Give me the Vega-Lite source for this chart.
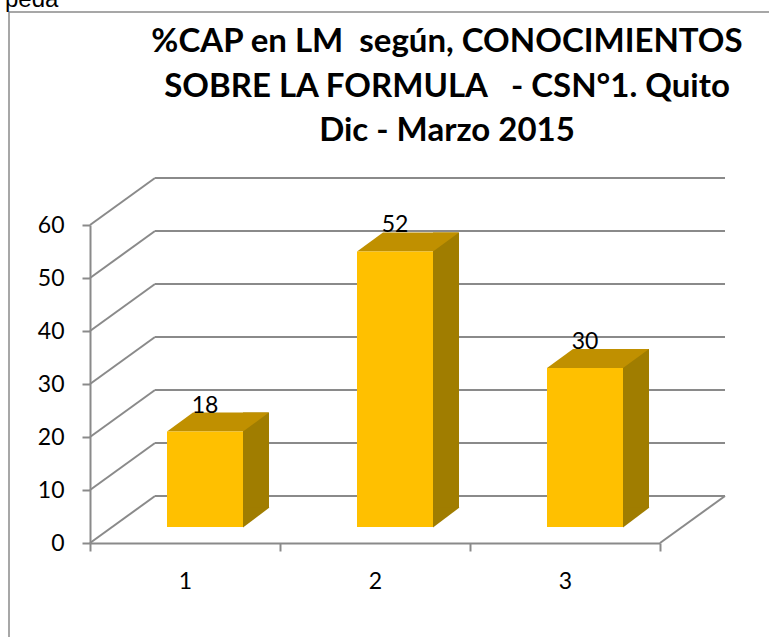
{
  "$schema": "https://vega.github.io/schema/vega-lite/v6.json",
  "width": 570,
  "height": 318,
  "autosize": {"type": "none"},
  "padding": {"left": 90, "top": 225, "right": 109, "bottom": 94},
  "background": "white",
  "config": {"view": {"stroke": null}, "font": "Lato"},
  "datasets": {
    "bars": [{"n": 1, "v": 18}, {"n": 2, "v": 52}, {"n": 3, "v": 30}],
    "ticks": [{"t": 0}, {"t": 10}, {"t": 20}, {"t": 30}, {"t": 40}, {"t": 50}, {"t": 60}]
  },
  "layer": [
    {
      "data": {"name": "ticks"},
      "mark": {"type": "rule", "color": "#8a8a8a", "strokeWidth": 2, "xOffset": 65, "x2Offset": 65, "yOffset": -47, "y2Offset": -47},
      "encoding": {
        "x": {"datum": 0.5, "type": "quantitative"},
        "x2": {"datum": 3.5},
        "y": {
          "field": "t", "type": "quantitative",
          "scale": {"domain": [0, 60], "nice": false, "zero": true},
          "axis": {
            "values": [0, 10, 20, 30, 40, 50, 60],
            "title": null, "grid": false,
            "domainColor": "#8a8a8a", "domainWidth": 2,
            "tickColor": "#8a8a8a", "tickWidth": 2, "tickSize": 8,
            "labelFontSize": 23, "labelColor": "black", "labelPadding": 18, "labelFont": "Lato"
          }
        }
      }
    },
    {
      "data": {"name": "ticks"},
      "mark": {"type": "rule", "color": "#8a8a8a", "strokeWidth": 2, "x2Offset": 65, "y2Offset": -47},
      "encoding": {
        "x": {
          "datum": 0.5, "type": "quantitative",
          "scale": {"domain": [0.5, 3.5], "nice": false, "zero": false, "padding": 0},
          "axis": {
            "values": [0.5, 1, 1.5, 2, 2.5, 3, 3.5],
            "format": ".0f",
            "labelOpacity": {"condition": {"test": "datum.value % 1 !== 0", "value": 0}, "value": 1},
            "tickOpacity": {"condition": {"test": "datum.value % 1 === 0", "value": 0}, "value": 1},
            "labelFlush": false, "labelOverlap": false, "labelBound": false,
            "title": null, "grid": false,
            "domainColor": "#8a8a8a", "domainWidth": 2,
            "tickColor": "#8a8a8a", "tickWidth": 2, "tickSize": 8,
            "labelFontSize": 23, "labelColor": "black", "labelPadding": 19, "labelFont": "Lato"
          }
        },
        "x2": {"datum": 0.5},
        "y": {"field": "t", "type": "quantitative"},
        "y2": {"field": "t"}
      }
    },
    {
      "data": {"values": [{}]},
      "mark": {"type": "rule", "color": "#8a8a8a", "strokeWidth": 2, "x2Offset": 65, "y2Offset": -47},
      "encoding": {
        "x": {"datum": 3.5, "type": "quantitative"},
        "x2": {"datum": 3.5},
        "y": {"datum": 0, "type": "quantitative"},
        "y2": {"datum": 0}
      }
    },
    {
      "data": {"name": "bars"},
      "mark": {"type": "bar", "width": 26, "color": "#A07D00", "xOffset": 71, "yOffset": -35, "y2Offset": -35},
      "encoding": {
        "x": {"field": "n", "type": "quantitative"},
        "y": {"field": "v", "type": "quantitative"}
      }
    },
    {
      "data": {"name": "bars"},
      "mark": {"type": "point", "shape": "M0,0.5 L0,-19.5 L26.5,-19.5 Z", "size": 4, "filled": true, "opacity": 1, "color": "#A07D00", "strokeWidth": 0, "xOffset": 58, "yOffset": -16},
      "encoding": {
        "x": {"field": "n", "type": "quantitative"},
        "y": {"datum": 0, "type": "quantitative"}
      }
    },
    {
      "data": {"name": "bars"},
      "mark": {"type": "point", "shape": "M0,0 L76,0 L102,-19 L26,-19 Z", "size": 4, "filled": true, "opacity": 1, "color": "#C09000", "strokeWidth": 0, "xOffset": -18, "yOffset": -16},
      "encoding": {
        "x": {"field": "n", "type": "quantitative"},
        "y": {"field": "v", "type": "quantitative"}
      }
    },
    {
      "data": {"name": "bars"},
      "mark": {"type": "bar", "width": 76, "color": "#FFC000", "xOffset": 20, "yOffset": -16, "y2Offset": -16},
      "encoding": {
        "x": {"field": "n", "type": "quantitative"},
        "y": {"field": "v", "type": "quantitative"}
      }
    },
    {
      "data": {"name": "bars"},
      "mark": {"type": "text", "fontSize": 23, "font": "Lato", "color": "black", "baseline": "middle", "xOffset": 20, "yOffset": -42},
      "encoding": {
        "x": {"field": "n", "type": "quantitative"},
        "y": {"field": "v", "type": "quantitative"},
        "text": {"field": "v", "type": "quantitative"}
      }
    },
    {
      "data": {"values": [{}]},
      "mark": {"type": "text", "text": ["%CAP en LM \u00a0según, CONOCIMIENTOS", "SOBRE LA FORMULA \u00a0 - CSN°1. Quito", "Dic - Marzo 2015"], "fontSize": 33, "fontWeight": "bold", "font": "Lato", "color": "black", "align": "center", "baseline": "alphabetic", "lineHeight": 44.5, "xOffset": 72, "yOffset": -173},
      "encoding": {
        "x": {"datum": 2, "type": "quantitative"},
        "y": {"datum": 60, "type": "quantitative"}
      }
    },
    {
      "data": {"values": [{}]},
      "mark": {"type": "rule", "color": "#8a8a8a", "strokeWidth": 1.5, "xOffset": -81, "yOffset": -213, "y2Offset": 100},
      "encoding": {
        "x": {"datum": 0.5, "type": "quantitative"},
        "y": {"datum": 60, "type": "quantitative"},
        "y2": {"datum": 0}
      }
    },
    {
      "data": {"values": [{}]},
      "mark": {"type": "rule", "color": "#8a8a8a", "strokeWidth": 1.5, "xOffset": -81, "x2Offset": 120, "yOffset": -213},
      "encoding": {
        "x": {"datum": 0.5, "type": "quantitative"},
        "x2": {"datum": 3.5},
        "y": {"datum": 60, "type": "quantitative"}
      }
    },
    {
      "data": {"values": [{"label": "peda"}]},
      "mark": {"type": "text", "fontSize": 24, "font": "Liberation Sans", "color": "black", "align": "left", "baseline": "alphabetic", "xOffset": -85, "yOffset": -218},
      "encoding": {
        "x": {"datum": 0.5, "type": "quantitative"},
        "y": {"datum": 60, "type": "quantitative"},
        "text": {"field": "label", "type": "nominal"}
      }
    }
  ]
}
